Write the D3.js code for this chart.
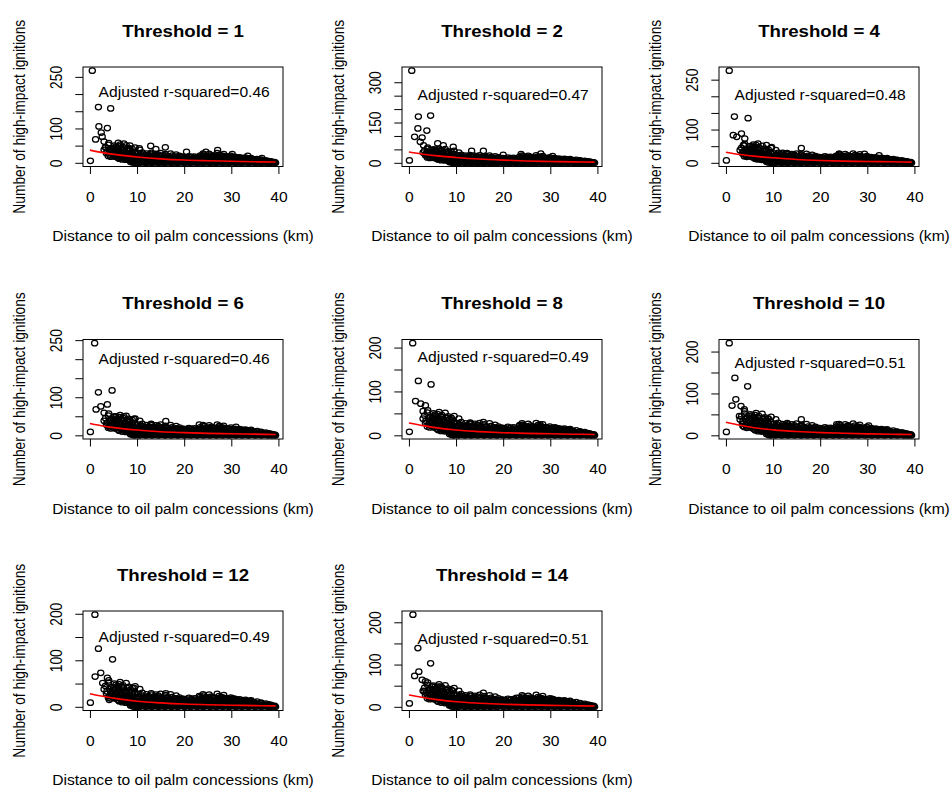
<!DOCTYPE html>
<html>
<head>
<meta charset="utf-8">
<script src="https://cdn.jsdelivr.net/npm/d3@7"></script>
<style>
  body { margin: 0; background: #fff; }
</style>
</head>
<body>
<svg id="chart" width="952" height="789"></svg>
<script>
// ---- data ----
const thresholds = [1, 2, 4, 6, 8, 10, 12, 14];
const rSquared = ["0.46", "0.47", "0.48", "0.46", "0.49", "0.51", "0.49", "0.51"];
// height (in counts) where the r-squared note sits, x is 20 km in every panel
const noteY = [205, 252, 202, 200, 178, 172, 149, 161];
const noteX = 20;

const xTickValues = [0, 10, 20, 30, 40];
const yTickValues = [
  [0, 50, 100, 150, 200, 250],
  [0, 50, 100, 150, 200, 250, 300],
  [0, 50, 100, 150, 200, 250],
  [0, 50, 100, 150, 200, 250],
  [0, 50, 100, 150, 200],
  [0, 50, 100, 150, 200],
  [0, 50, 100, 150, 200],
  [0, 50, 100, 150, 200]
];
const yTickLabels = [
  [0, 100, 250],
  [0, 150, 300],
  [0, 100, 250],
  [0, 100, 250],
  [0, 100, 200],
  [0, 100, 200],
  [0, 100, 200],
  [0, 100, 200]
];

// fitted curve (red), same distances for each panel
const fitDistance = [0, 3, 6, 10, 15, 20, 25, 30, 35, 39.4];
const fitCounts = [
  [37, 29, 23, 17, 11.5, 8, 6, 4.5, 3, 2.5],
  [40, 32, 26, 20, 14, 10, 7, 5, 3.5, 2.5],
  [32, 25, 20, 15, 10, 7, 5, 4, 3, 2],
  [31, 24, 19, 14, 9.5, 7, 5, 4, 3, 2],
  [28, 22, 17, 12, 8.5, 6, 4.5, 3.5, 2.5, 2],
  [31, 24, 18, 13, 9, 6.5, 5, 3.5, 2.5, 2],
  [28, 22, 17, 12, 8.5, 6, 4.5, 3.5, 2.5, 2],
  [28, 22, 17, 12, 8.5, 6, 4.5, 3.5, 2.5, 2]
];

// the dense mass of grid cells near the bottom, looks alike in all panels
const cloud = [
  [8.6,3],[9.1,1],[9.5,0],[10.0,2],[10.4,0],[10.9,1],[11.3,3],[11.8,0],[12.2,1],[12.7,2],[13.1,0],[13.6,1],
  [14.1,3],[14.5,0],[15.0,1],[15.4,2],[15.9,0],[16.3,1],[16.8,3],[17.2,0],[17.7,1],[18.1,2],[18.6,0],[19.0,1],
  [19.5,3],[20.0,0],[20.4,1],[20.9,2],[21.3,0],[21.8,1],[22.2,3],[22.7,0],[23.1,1],[23.6,2],[24.0,0],[24.5,1],
  [25.0,3],[25.4,0],[25.9,1],[26.3,2],[26.8,0],[27.2,1],[27.7,3],[28.1,0],[28.6,1],[29.0,2],[29.5,0],[30.0,1],
  [30.4,3],[30.9,0],[31.3,1],[31.8,2],[32.2,0],[32.7,1],[33.1,3],[33.6,0],[34.0,1],[34.5,2],[35.0,0],[35.4,1],
  [35.9,2],[36.3,0],[36.8,1],[37.2,2],[37.7,0],[38.1,1],[38.6,0],[39.0,1],[39.4,0],
  [8.8,5],[9.3,4],[9.7,6],[10.2,3],[10.6,5],[11.1,4],[11.5,6],[12.0,3],[12.4,5],[12.9,4],[13.3,6],[13.8,3],
  [14.3,5],[14.8,4],[15.2,6],[15.7,3],[16.1,5],[16.6,4],[17.0,6],[17.5,3],[17.9,5],[18.4,4],[18.8,6],[19.3,3],
  [19.7,5],[20.2,4],[20.7,6],[21.1,3],[21.6,5],[22.0,4],[22.5,6],[22.9,3],[23.4,5],[23.8,4],[24.3,6],[24.7,3],
  [25.2,5],[25.7,4],[26.1,6],[26.6,3],[27.0,5],[27.5,4],[27.9,6],[28.4,3],[28.8,5],[29.3,4],[29.7,6],[30.2,3],
  [30.7,5],[31.1,4],[31.6,6],[32.0,3],[32.5,5],[32.9,4],[33.4,6],[33.8,3],[34.3,5],[34.7,4],[35.2,5],[35.7,3],
  [36.1,4],[36.6,3],[37.0,4],[37.5,3],[37.9,2],[38.4,3],[38.8,2],[39.2,2],
  [7.6,9],[8.1,11],[8.7,7],[9.2,10],[9.8,8],[10.3,6],[10.8,10],[11.4,9],[11.9,7],[12.5,11],[13.0,8],[13.5,6],
  [14.1,10],[14.6,9],[15.2,7],[15.7,11],[16.2,8],[16.8,6],[17.3,10],[17.9,9],[18.4,7],[18.9,10],[19.5,8],[20.0,6],
  [20.6,9],[21.1,7],[21.6,10],[22.2,8],[22.7,6],[23.3,9],[23.8,11],[24.3,8],[24.9,10],[25.4,7],[26.0,9],[26.5,11],
  [27.0,8],[27.6,10],[28.1,7],[28.7,9],[29.2,6],[29.7,8],[30.3,10],[30.8,7],[31.4,9],[31.9,6],[32.4,8],[33.0,7],
  [33.5,9],[34.1,6],[34.6,8],[35.1,7],[35.7,6],[36.2,8],[36.8,5],[37.3,7],[37.9,5],[38.4,4],
  [6.2,12],[6.8,10],[7.3,13],[7.9,11],[8.5,12],[9.0,10],[9.6,13],[10.1,11],[10.6,12],[11.2,10],[11.7,13],[12.2,11],
  [12.8,12],[13.3,10],[13.9,13],[14.4,11],[15.0,12],[15.5,10],[16.0,13],[16.6,11],[17.1,12],[17.7,10],[18.2,11],
  [18.8,9],[19.3,11],[19.9,10],[20.4,11],[21.0,9],[21.5,11],[22.0,10],[22.6,11],[23.1,12],[23.7,10],[24.2,13],
  [24.8,11],[25.3,12],[25.9,10],[26.4,13],[27.0,11],[27.5,12],[28.0,10],[28.6,12],[29.1,11],[29.7,10],[30.2,11],
  [30.8,9],[31.3,10],[31.9,9],[32.4,10],[33.0,8],[33.5,9],[34.1,8],[34.6,9],[35.2,7],
  [5.4,18],[5.9,15],[6.4,19],[6.9,14],[7.4,17],[7.9,13],[8.4,18],[8.9,15],[9.5,13],[10.1,17],[10.7,14],[11.3,16],
  [11.9,13],[12.5,18],[13.1,15],[13.7,13],[14.3,17],[14.9,14],[15.5,16],[16.1,13],[16.7,15],[17.3,12],[17.9,16],
  [18.5,13],[19.1,15],[19.7,12],[20.3,14],[20.9,12],[21.5,15],[22.1,13],[22.7,12],[23.3,15],[23.9,17],[24.5,14],
  [25.1,16],[25.7,13],[26.3,15],[26.9,17],[27.5,14],[28.1,16],[28.7,13],[29.3,15],[29.9,12],[30.5,14],[31.1,12],
  [31.7,13],[32.3,11],[32.9,13],[33.5,11],[34.1,12],[34.8,10],[35.5,11],[36.3,9],
  [3.9,20],[4.4,18],[4.9,21],[5.5,19],[6.0,23],[6.5,18],[7.0,21],[7.5,19],[8.0,22],[8.6,18],[9.2,21],[9.9,19],
  [10.6,22],[11.4,18],[12.1,21],[12.8,19],[13.5,22],[14.2,18],[14.9,20],[15.6,17],[16.3,19],[17.0,17],[17.8,18],
  [18.6,16],[19.5,17],[20.5,16],[21.6,17],[22.8,16],[23.8,19],[24.6,21],[25.4,18],[26.2,20],[27.0,18],[27.8,21],
  [28.6,18],[29.5,17],[30.4,16],[31.3,15],[32.4,14],[33.6,13],
  [4.2,24],[4.7,28],[5.2,22],[5.7,26],[6.2,21],[6.7,27],[7.2,23],[7.7,20],[8.3,25],[8.9,22],[9.6,27],[10.3,21],
  [11.0,24],[11.7,20],[12.4,23],[13.1,26],[13.8,21],[14.5,24],[15.2,20],[15.9,22],[16.6,19],[17.4,21],[18.2,18],
  [19.0,20],[19.9,17],[21.0,19],[22.2,18],[23.4,21],[24.2,24],[25.0,20],[25.8,22],[26.6,19],[27.4,23],[28.2,20],
  [29.0,18],[29.9,20],[30.8,17],[31.8,16],[33.0,15],[34.2,14],
  [3.6,33],[4.1,38],[4.6,31],[5.1,36],[5.6,30],[6.1,35],[6.6,32],[7.1,37],[7.6,30],[8.2,34],[8.8,29],[9.5,32],
  [10.3,28],[11.1,30],[12.0,27],[13.0,29],[14.0,26],[15.0,28],[16.0,25],[17.1,27],[18.3,24],[24.0,27],[25.3,26],
  [27.0,28],[28.4,25],
  [3.5,28],[4.4,34],[5.0,41],[5.5,47],[6.0,40],[6.8,42],[7.3,33],[7.9,40],[8.6,37],[3.0,38],[4.0,57],[6.2,48],
  [3.3,45],[3.9,52],[4.5,42],[5.2,50],[5.8,44],[6.4,53],[7.0,46],[7.7,51],[8.3,43],[9.0,40],[9.6,44],[10.6,38]
];

// the scattered high counts, one list per threshold
const outliers = [
  [[0.5,268],[0.1,6],[1.8,162],[4.4,158],[1.9,106],[3.7,101],[1.2,68],[2.6,76],[3.0,62],[2.4,88],[3.3,45],
   [6.0,58],[7.2,56],[8.5,50],[10.5,42],[12.9,49],[16.0,45],[14.0,40],[20.5,32],[24.6,32],[27.1,37],[30.2,25],
   [33.5,20],[36.5,14]],
  [[0.6,343],[0.1,9],[2.0,172],[4.6,176],[1.9,128],[3.8,120],[1.2,97],[2.8,94],[2.4,78],[3.1,65],[4.6,47],
   [6.1,72],[7.3,65],[9.4,59],[13.3,44],[15.8,44],[23.8,32],[28.0,34],[4.6,28],[30.5,25],[20.0,30]],
  [[0.7,277],[0.1,7],[1.8,139],[4.7,134],[1.55,83],[3.3,88],[2.3,78],[4.0,73],[3.7,53],[5.8,55],[6.8,58],
   [8.6,53],[9.7,47],[16.0,44],[12.0,30],[24.1,27],[29.4,27],[32.5,22],[4.0,25]],
  [[1.0,242],[0.1,9],[1.8,113],[4.7,118],[1.3,68],[2.3,76],[3.7,81],[3.0,59],[5.5,50],[7.2,50],[9.3,43],
   [16.1,37],[13.0,30],[23.2,28],[27.5,25],[31.0,22],[4.0,24]],
  [[0.8,210],[0.1,8],[2.0,124],[4.7,116],[1.4,78],[2.5,72],[3.5,68],[3.0,55],[5.5,45],[7.0,42],[9.2,36],
   [15.8,30],[13.0,27],[23.5,23],[27.8,25],[31.0,18],[4.2,25]],
  [[0.7,220],[0.1,8],[1.9,137],[4.6,117],[1.3,71],[2.1,86],[3.2,70],[3.9,62],[2.85,46],[5.0,46],[8.9,40],
   [16.0,38],[12.6,25],[23.5,26],[26.0,24],[30.3,23],[3.6,22]],
  [[1.06,198],[0.1,9],[1.8,125],[4.8,102],[1.1,65],[2.3,73],[3.7,62],[2.7,51],[5.9,44],[7.0,42],[9.4,40],
   [16.1,29],[23.2,23],[25.3,21],[28.2,19],[30.3,18],[4.1,15]],
  [[0.85,218],[0.1,8],[1.9,139],[4.6,103],[1.2,73],[2.1,83],[2.8,64],[3.5,60],[4.9,48],[6.7,48],[9.3,38],
   [15.8,33],[11.5,25],[22.8,21],[24.9,21],[27.7,20],[30.4,19],[3.2,36]]
];

// ---- layout ----
const svg = d3.select("#chart");
const font = "'Liberation Sans', Arial, Helvetica, sans-serif";
const sx = 1.13;              // the picture is a little wider than tall
const colLeft = [83, 402, 719];
const rowTop = [67, 339.5, 611];
const plotW = 200, plotH = 99.5;
const labelSize = 13.8, titleSize = 16.5;

svg.append("rect").attr("width", 952).attr("height", 789).attr("fill", "#fff");

// R style axis range: data extent plus 4% each side
const padded = (ext) => {
  const p = (ext[1] - ext[0]) * 0.04;
  return [ext[0] - p, ext[1] + p];
};

const addText = (g, x, y, str, size, rotate) => g.append("text")
  .attr("transform", `translate(${x},${y}) scale(${sx},1)` + (rotate ? " rotate(-90)" : ""))
  .attr("text-anchor", "middle")
  .style("font-family", font)
  .style("font-size", size + "px")
  .attr("fill", "#000")
  .text(str);

thresholds.forEach((t, i) => {
  const left = colLeft[i % 3];
  const top = rowTop[Math.floor(i / 3)];
  const points = cloud.concat(outliers[i]);
  const fit = fitDistance.map((d, j) => [d, fitCounts[i][j]]);

  const x = d3.scaleLinear().domain(padded(d3.extent(points, (d) => d[0]))).range([0, plotW]);
  const y = d3.scaleLinear().domain(padded(d3.extent(points, (d) => d[1]))).range([plotH, 0]);

  const g = svg.append("g").attr("transform", `translate(${left},${top})`);

  g.append("clipPath").attr("id", "clip" + i)
    .append("rect").attr("width", plotW).attr("height", plotH);

  g.append("g")
    .attr("clip-path", `url(#clip${i})`)
    .selectAll("ellipse")
    .data(points)
    .join("ellipse")
    .attr("cx", (d) => x(d[0]))
    .attr("cy", (d) => y(d[1]))
    .attr("rx", 3.1)
    .attr("ry", 2.75)
    .attr("fill", "none")
    .attr("stroke", "#000")
    .attr("stroke-width", 1.25);

  g.append("path")
    .datum(fit)
    .attr("d", d3.line().curve(d3.curveMonotoneX).x((d) => x(d[0])).y((d) => y(d[1])))
    .attr("fill", "none")
    .attr("stroke", "#ff0000")
    .attr("stroke-width", 1.6);

  g.append("rect")
    .attr("width", plotW)
    .attr("height", plotH)
    .attr("fill", "none")
    .attr("stroke", "#000")
    .attr("stroke-width", 1);

  // axes
  const xAxis = g.append("g")
    .attr("transform", `translate(0,${plotH})`)
    .call(d3.axisBottom(x).tickValues(xTickValues).tickSize(7.5).tickFormat(d3.format("d")));
  xAxis.select(".domain").remove();
  xAxis.selectAll("line").attr("stroke", "#000");
  xAxis.selectAll("text")
    .attr("y", 0).attr("dy", 0)
    .attr("transform", `translate(0,35) scale(${sx},1)`)
    .style("font-family", font).style("font-size", labelSize + "px").attr("fill", "#000");

  const labels = yTickLabels[i];
  const yAxis = g.append("g")
    .call(d3.axisLeft(y).tickValues(yTickValues[i]).tickSize(7.7)
      .tickFormat((d) => (labels.includes(d) ? d : "")));
  yAxis.select(".domain").remove();
  yAxis.selectAll("line").attr("stroke", "#000");
  yAxis.selectAll("text")
    .attr("x", 0).attr("dy", 0)
    .attr("transform", `translate(-21.3,0) scale(${sx},1) rotate(-90)`)
    .attr("text-anchor", "middle")
    .style("font-family", font).style("font-size", labelSize + "px").attr("fill", "#000");

  // texts
  addText(g, plotW / 2, -30.5, "Threshold = " + t, titleSize).style("font-weight", "bold");
  addText(g, plotW / 2, plotH + 74.5, "Distance to oil palm concessions (km)", labelSize);
  addText(g, -58, plotH / 2, "Number of high-impact ignitions", labelSize, true);
  addText(g, x(noteX), y(noteY[i]), "Adjusted r-squared=" + rSquared[i], labelSize)
    .attr("dy", "0.35em");
});
</script>
</body>
</html>
